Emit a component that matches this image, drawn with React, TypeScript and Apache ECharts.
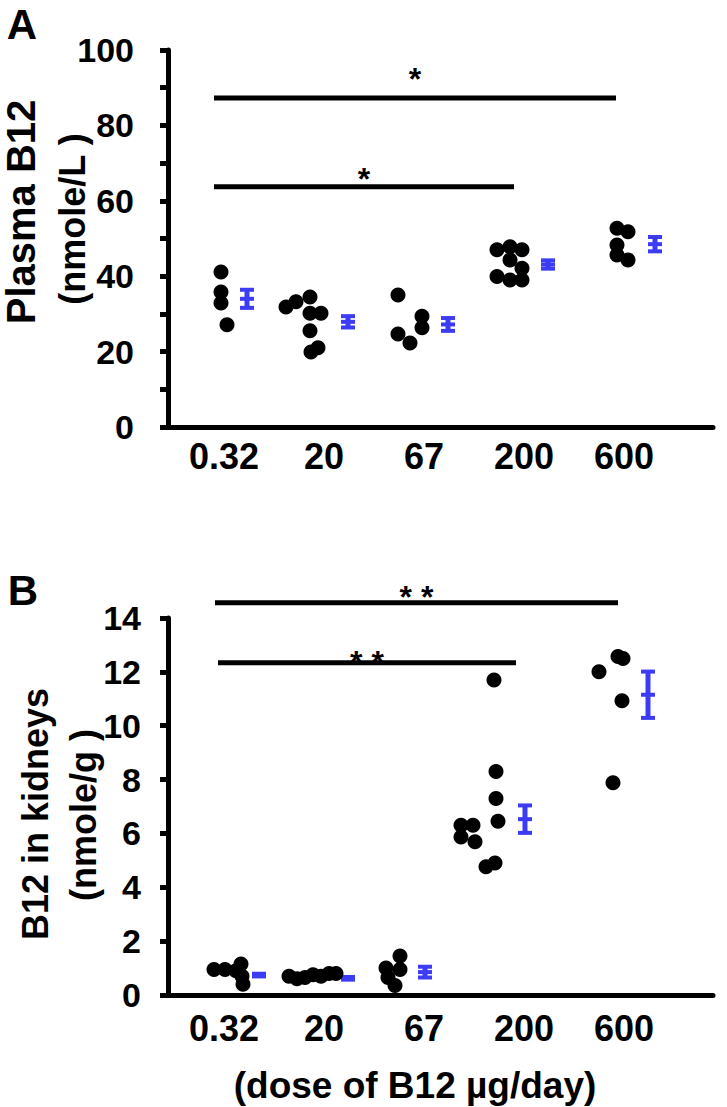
import React, { useEffect, useRef } from "react";
import * as echarts from "echarts";

// ---- data ----
const doses = ["0.32", "20", "67", "200", "600"];

// Panel A: plasma B12 (nmole/L), individual animals per dose group
const plasmaValues = [
  [41.1, 35.8, 32.9, 27.1],
  [31.8, 33.2, 34.5, 30.2, 30.2, 25.5, 19.9, 21.0],
  [35.0, 24.7, 22.3, 29.4, 26.3],
  [47.0, 47.8, 47.0, 44.3, 42.1, 39.9, 39.0, 39.0],
  [52.7, 51.8, 48.3, 45.6, 44.3],
];
// horizontal jitter of each dot (in group units)
const plasmaJitter = [
  [-0.03, -0.03, -0.03, 0.03],
  [-0.38, -0.28, -0.14, -0.14, -0.03, -0.14, -0.13, -0.06],
  [-0.26, -0.26, -0.14, -0.02, -0.02],
  [-0.27, -0.14, -0.02, -0.14, -0.02, -0.27, -0.14, -0.02],
  [-0.07, 0.04, -0.07, -0.07, 0.04],
];
const plasmaMean = [34.0, 27.9, 27.2, 43.1, 48.5];
const plasmaSem = [2.4, 1.5, 1.7, 1.1, 1.9];
const plasmaMeanX = [0.23, 1.24, 2.24, 3.24, 4.31];

// Panel B: B12 in kidneys (nmole/g)
const kidneyValues = [
  [0.95, 0.95, 0.9, 1.15, 0.7, 0.4],
  [0.7, 0.6, 0.65, 0.75, 0.7, 0.8, 0.8],
  [1.0, 0.65, 1.45, 0.95, 0.35],
  [11.7, 8.3, 7.3, 6.45, 6.3, 6.3, 5.87, 5.69, 4.9, 4.76],
  [12.57, 12.5, 12.0, 10.93, 7.88],
];
const kidneyJitter = [
  [-0.1, 0.01, 0.12, 0.17, 0.18, 0.19],
  [-0.35, -0.27, -0.19, -0.11, -0.03, 0.05, 0.12],
  [-0.38, -0.36, -0.24, -0.24, -0.29],
  [-0.3, -0.28, -0.28, -0.26, -0.63, -0.51, -0.63, -0.49, -0.29, -0.38],
  [-0.06, -0.01, -0.25, -0.02, -0.11],
];
const kidneyMean = [0.74, 0.62, 0.85, 6.53, 11.15];
const kidneySem = [0.05, 0.05, 0.2, 0.51, 0.86];
const kidneyMeanX = [0.35, 1.24, 2.01, 3.01, 4.24];

// significance brackets
const sigFromA = [-0.1, -0.1];
const sigToA = [3.92, 2.9];
const sigYA = [87.3, 63.7];
const sigStarYA = [94.5, 67.8];
const sigLabelA = ["*", "*"];

const sigFromB = [-0.09, -0.06];
const sigToB = [3.94, 2.92];
const sigYB = [14.57, 12.34];
const sigStarYB = [15.06, 12.68];
const sigLabelB = ["* *", "* *"];

const plasmaTicks = { min: 0, max: 100, interval: 10, labelEvery: 20 };
const kidneyTicks = { min: 0, max: 14, interval: 2, labelEvery: 2 };

// ---- styles ----
const FONT = '"Liberation Sans", Arial, Helvetica, sans-serif';
const BLUE = "#3c3cf5";

function dots(values: number[][], jitter: number[][]) {
  const out: number[][] = [];
  values.forEach((grp, i) => grp.forEach((v, j) => out.push([i + jitter[i][j], v])));
  return out;
}

function errorBarItem(params: any, api: any) {
  const x = api.value(0);
  const m = api.value(1);
  const s = api.value(2);
  const top = api.coord([x, m + s]);
  const mid = api.coord([x, m]);
  const bot = api.coord([x, m - s]);
  const hw = 7;
  const cap = (p: number[]) => ({
    type: "line",
    shape: { x1: p[0] - hw, y1: p[1], x2: p[0] + hw, y2: p[1] },
    style: { stroke: BLUE, lineWidth: 4 },
  });
  return {
    type: "group",
    children: [
      { type: "line", shape: { x1: top[0], y1: top[1], x2: bot[0], y2: bot[1] }, style: { stroke: BLUE, lineWidth: 5 } },
      cap(top),
      cap(mid),
      cap(bot),
    ],
  };
}

function bracketRenderer(labels: string[]) {
  return (params: any, api: any) => {
    const x1 = api.value(0);
    const x2 = api.value(1);
    const y = api.value(2);
    const sy = api.value(3);
    const p1 = api.coord([x1, y]);
    const p2 = api.coord([x2, y]);
    const ps = api.coord([(x1 + x2) / 2, sy]);
    return {
      type: "group",
      children: [
        { type: "line", shape: { x1: p1[0], y1: p1[1], x2: p2[0], y2: p2[1] }, style: { stroke: "#000", lineWidth: 5 } },
        {
          type: "text",
          x: ps[0],
          y: ps[1] + 8,
          style: {
            text: labels[params.dataIndex],
            fill: "#000",
            font: `bold 32px ${FONT}`,
            align: "center",
            verticalAlign: "middle",
          },
        },
      ],
    };
  };
}

function xAxisCfg(gridIndex: number, margin: number) {
  return {
    type: "value",
    gridIndex,
    min: -0.56,
    max: 4.89,
    axisLine: { show: true, onZero: false, lineStyle: { color: "#000", width: 5 } },
    axisTick: { show: false },
    splitLine: { show: false },
    axisLabel: {
      customValues: [0, 1, 2, 3, 4],
      formatter: (v: number) => doses[Math.round(v)] ?? "",
      fontSize: 36,
      fontWeight: "bold",
      fontFamily: FONT,
      color: "#000",
      margin,
    },
  };
}

function yAxisCfg(gridIndex: number, t: any, margin: number) {
  return {
    type: "value",
    gridIndex,
    min: t.min,
    max: t.max,
    interval: t.interval,
    axisLine: { show: true, onZero: false, lineStyle: { color: "#000", width: 5 } },
    axisTick: { show: true, length: 8, lineStyle: { color: "#000", width: 5 } },
    splitLine: { show: false },
    axisLabel: {
      formatter: (v: number) => (Math.round(v) % t.labelEvery === 0 ? String(v) : ""),
      fontSize: 34,
      fontWeight: "bold",
      fontFamily: FONT,
      color: "#000",
      margin,
    },
  };
}

function rotText(text: string, x: number, y: number, size: number) {
  return {
    type: "text",
    x,
    y,
    rotation: Math.PI / 2,
    style: { text, fill: "#000", font: `bold ${size}px ${FONT}`, align: "center", verticalAlign: "middle" },
  };
}

function flatText(text: string, x: number, y: number, size: number) {
  return {
    type: "text",
    x,
    y,
    style: { text, fill: "#000", font: `bold ${size}px ${FONT}`, align: "center", verticalAlign: "middle" },
  };
}

export default function App() {
  const ref = useRef<HTMLDivElement>(null);
  useEffect(() => {
    if (!ref.current) return;
    const chart = echarts.init(ref.current, undefined, { renderer: "svg" });
    chart.setOption({
      animation: false,
      backgroundColor: "#fff",
      grid: [
        { left: 168, right: 14, top: 50, height: 377 },
        { left: 168, right: 14, top: 618, height: 377 },
      ],
      xAxis: [xAxisCfg(0, 11), xAxisCfg(1, 15)],
      yAxis: [yAxisCfg(0, plasmaTicks, 34), yAxisCfg(1, kidneyTicks, 27)],
      graphic: [
        flatText("A", 22, 24, 42),
        flatText("B", 23, 590, 42),
        rotText("Plasma B12", 21, 212, 40),
        rotText("(nmole/L )", 72, 219, 36),
        rotText("B12 in kidneys", 35, 814, 36),
        rotText("(nmole/g )", 83, 815, 36),
        flatText("(dose of B12 \u00b5g/day)", 415, 1085, 37),
      ],
      series: [
        {
          type: "scatter",
          xAxisIndex: 0,
          yAxisIndex: 0,
          symbolSize: 15,
          itemStyle: { color: "#000", opacity: 1 },
          data: dots(plasmaValues, plasmaJitter),
        },
        {
          type: "custom",
          xAxisIndex: 0,
          yAxisIndex: 0,
          clip: false,
          renderItem: errorBarItem,
          data: plasmaMean.map((m, i) => [plasmaMeanX[i], m, plasmaSem[i]]),
        },
        {
          type: "custom",
          xAxisIndex: 0,
          yAxisIndex: 0,
          clip: false,
          renderItem: bracketRenderer(sigLabelA),
          data: sigYA.map((y, i) => [sigFromA[i], sigToA[i], y, sigStarYA[i]]),
        },
        {
          type: "scatter",
          xAxisIndex: 1,
          yAxisIndex: 1,
          symbolSize: 15,
          itemStyle: { color: "#000", opacity: 1 },
          data: dots(kidneyValues, kidneyJitter),
        },
        {
          type: "custom",
          xAxisIndex: 1,
          yAxisIndex: 1,
          clip: false,
          renderItem: errorBarItem,
          data: kidneyMean.map((m, i) => [kidneyMeanX[i], m, kidneySem[i]]),
        },
        {
          type: "custom",
          xAxisIndex: 1,
          yAxisIndex: 1,
          clip: false,
          renderItem: bracketRenderer(sigLabelB),
          data: sigYB.map((y, i) => [sigFromB[i], sigToB[i], y, sigStarYB[i]]),
        },
      ],
    });
    return () => chart.dispose();
  }, []);
  return (
    <div
      ref={ref}
      style={{ position: "absolute", left: 0, top: 0, width: 727, height: 1107, background: "#fff" }}
    />
  );
}
